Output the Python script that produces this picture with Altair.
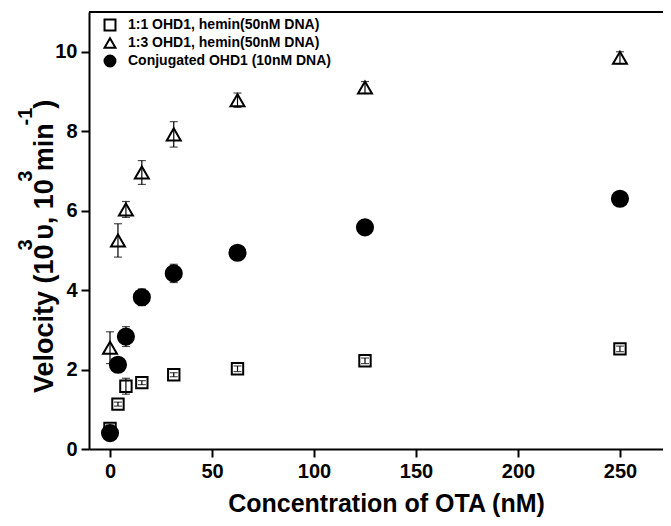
import altair as alt
import pandas as pd

# OTA concentrations (nM)
conc = [0, 3.9, 7.8, 15.6, 31.25, 62.5, 125, 250]
series_names = [
    "1:1 OHD1, hemin(50nM DNA)",
    "1:3 OHD1, hemin(50nM DNA)",
    "Conjugated OHD1 (10nM DNA)",
]
v_11 = [0.52, 1.13, 1.58, 1.67, 1.87, 2.02, 2.22, 2.52]
e_11 = [0.08, 0.05, 0.20, 0.05, 0.05, 0.07, 0.07, 0.07]
v_13 = [2.55, 5.25, 6.03, 6.96, 7.92, 8.78, 9.10, 9.85]
e_13 = [0.40, 0.42, 0.20, 0.30, 0.32, 0.18, 0.15, 0.15]
v_cj = [0.40, 2.12, 2.83, 3.82, 4.42, 4.94, 5.58, 6.30]
e_cj = [0.05, 0.10, 0.25, 0.21, 0.23, 0.05, 0.05, 0.05]

x_ticks = [0, 50, 100, 150, 200, 250]
y_ticks = [0, 2, 4, 6, 8, 10]

# y-axis title pieces: (text, is_superscript)
y_title_parts = [
    ("Velocity (10", False),
    ("3", True),
    ("υ, 10", False),
    ("3", True),
    ("min", False),
    ("-1", True),
    (")", False),
]
x_title = "Concentration of OTA (nM)"

rows = []
for name, vals, errs in zip(series_names, [v_11, v_13, v_cj], [e_11, e_13, e_cj]):
    for c, v, e in zip(conc, vals, errs):
        rows.append({"conc": c, "v": v, "lo": v - e, "hi": v + e,
                     "series": name, "sz": name})
df = pd.DataFrame(rows)
leg_df = pd.DataFrame({"series": series_names})

FONT = "Liberation Sans"
W, H = 574, 437
MAIN_FS, SUP_FS = 27, 20

# approximate Liberation Sans Bold advance widths (em)
ADV = {"V": .667, "e": .556, "l": .278, "o": .611, "c": .556, "i": .278,
       "t": .333, "y": .556, " ": .278, "(": .333, ")": .333, "1": .556,
       "0": .556, "3": .556, "υ": .60, ",": .278, "m": .889, "n": .611,
       "-": .333}


def text_w(s, fs):
    return sum(ADV.get(ch, .6) for ch in s) * fs * 0.95


xs = alt.Scale(domain=[-10.3, 271.1], nice=False, zero=False)
ys = alt.Scale(domain=[0, 11], nice=False, zero=False)
shape_scale = alt.Scale(domain=series_names, range=["square", "triangle-up", "circle"])
fill_scale = alt.Scale(domain=series_names, range=["transparent", "transparent", "black"])
leg_y_scale = alt.Scale(type="point", domain=series_names, range=[13, 49], padding=0)

x_enc = alt.X(
    "conc:Q", scale=xs,
    axis=alt.Axis(values=x_ticks, title=x_title,
                  titleX=297, titleY=62, titleBaseline="alphabetic",
                  titleAlign="center", labelPadding=4),
)
y_enc = alt.Y(
    "v:Q", scale=ys,
    axis=alt.Axis(values=y_ticks, title=None, labelPadding=4),
)

base = alt.Chart(df)

rules = base.mark_rule(color="black", strokeWidth=1.2).encode(
    x=alt.X("conc:Q", scale=xs), y=alt.Y("lo:Q", scale=ys), y2="hi:Q"
)
cap_lo = base.mark_tick(orient="horizontal", size=8, thickness=1.2, color="black").encode(
    x=alt.X("conc:Q", scale=xs), y=alt.Y("lo:Q", scale=ys)
)
cap_hi = base.mark_tick(orient="horizontal", size=8, thickness=1.2, color="black").encode(
    x=alt.X("conc:Q", scale=xs), y=alt.Y("hi:Q", scale=ys)
)

points = base.mark_point(filled=True, strokeWidth=2, opacity=1).encode(
    x=x_enc,
    y=y_enc,
    shape=alt.Shape("series:N", scale=shape_scale, legend=None),
    fill=alt.Fill("series:N", scale=fill_scale, legend=None),
    size=alt.Size("sz:N", scale=alt.Scale(domain=series_names,
                                          range=[130, 260, 220]),
                  legend=None),
    stroke=alt.value("black"),
)

top = alt.Chart(pd.DataFrame({"a": [0]})).mark_rule(color="black", strokeWidth=2).encode(
    x=alt.value(0), x2=alt.value(W), y=alt.value(0)
)

# legend (inside the plot, top-left)
leg_sym = alt.Chart(leg_df).mark_point(filled=True, strokeWidth=2, opacity=1, size=120).encode(
    x=alt.value(21),
    y=alt.Y("series:N", scale=leg_y_scale, axis=None),
    shape=alt.Shape("series:N", scale=shape_scale, legend=None),
    fill=alt.Fill("series:N", scale=fill_scale, legend=None),
    stroke=alt.value("black"),
)
leg_txt = alt.Chart(leg_df).mark_text(
    align="left", baseline="middle", font=FONT, fontSize=14,
    fontWeight="bold", color="black",
).encode(
    x=alt.value(39),
    y=alt.Y("series:N", scale=leg_y_scale, axis=None),
    text="series:N",
)

# rotated y title built from pieces so that superscripts are raised
one = pd.DataFrame({"a": [0]})
title_layers = []
pos = 381.0
for txt, sup in y_title_parts:
    fs = SUP_FS if sup else MAIN_FS
    xoff = -57 if sup else -36
    title_layers.append(
        alt.Chart(one).mark_text(
            text=txt, angle=270, align="left", baseline="alphabetic",
            font=FONT, fontSize=fs, fontWeight="bold", color="black",
        ).encode(x=alt.value(xoff), y=alt.value(pos))
    )
    pos -= text_w(txt, fs)

main = alt.layer(rules, cap_lo, cap_hi, points, top, *title_layers)
legend_layer = alt.layer(leg_sym, leg_txt)

chart = alt.layer(main, legend_layer).resolve_scale(y="independent").properties(
    width=W, height=H,
    padding={"left": 81, "top": 4, "right": 0, "bottom": 69},
    autosize=alt.AutoSizeParams(type="none"),
).configure_view(stroke=None).configure_axis(
    grid=False,
    domainColor="black", domainWidth=2,
    tickColor="black", tickWidth=2, tickSize=8,
    labelFont=FONT, labelFontSize=20, labelFontWeight="bold", labelColor="black",
    titleFont=FONT, titleFontSize=25, titleFontWeight="bold", titleColor="black",
)

chart.save("out.html", embed_options={"renderer": "svg", "actions": False})
